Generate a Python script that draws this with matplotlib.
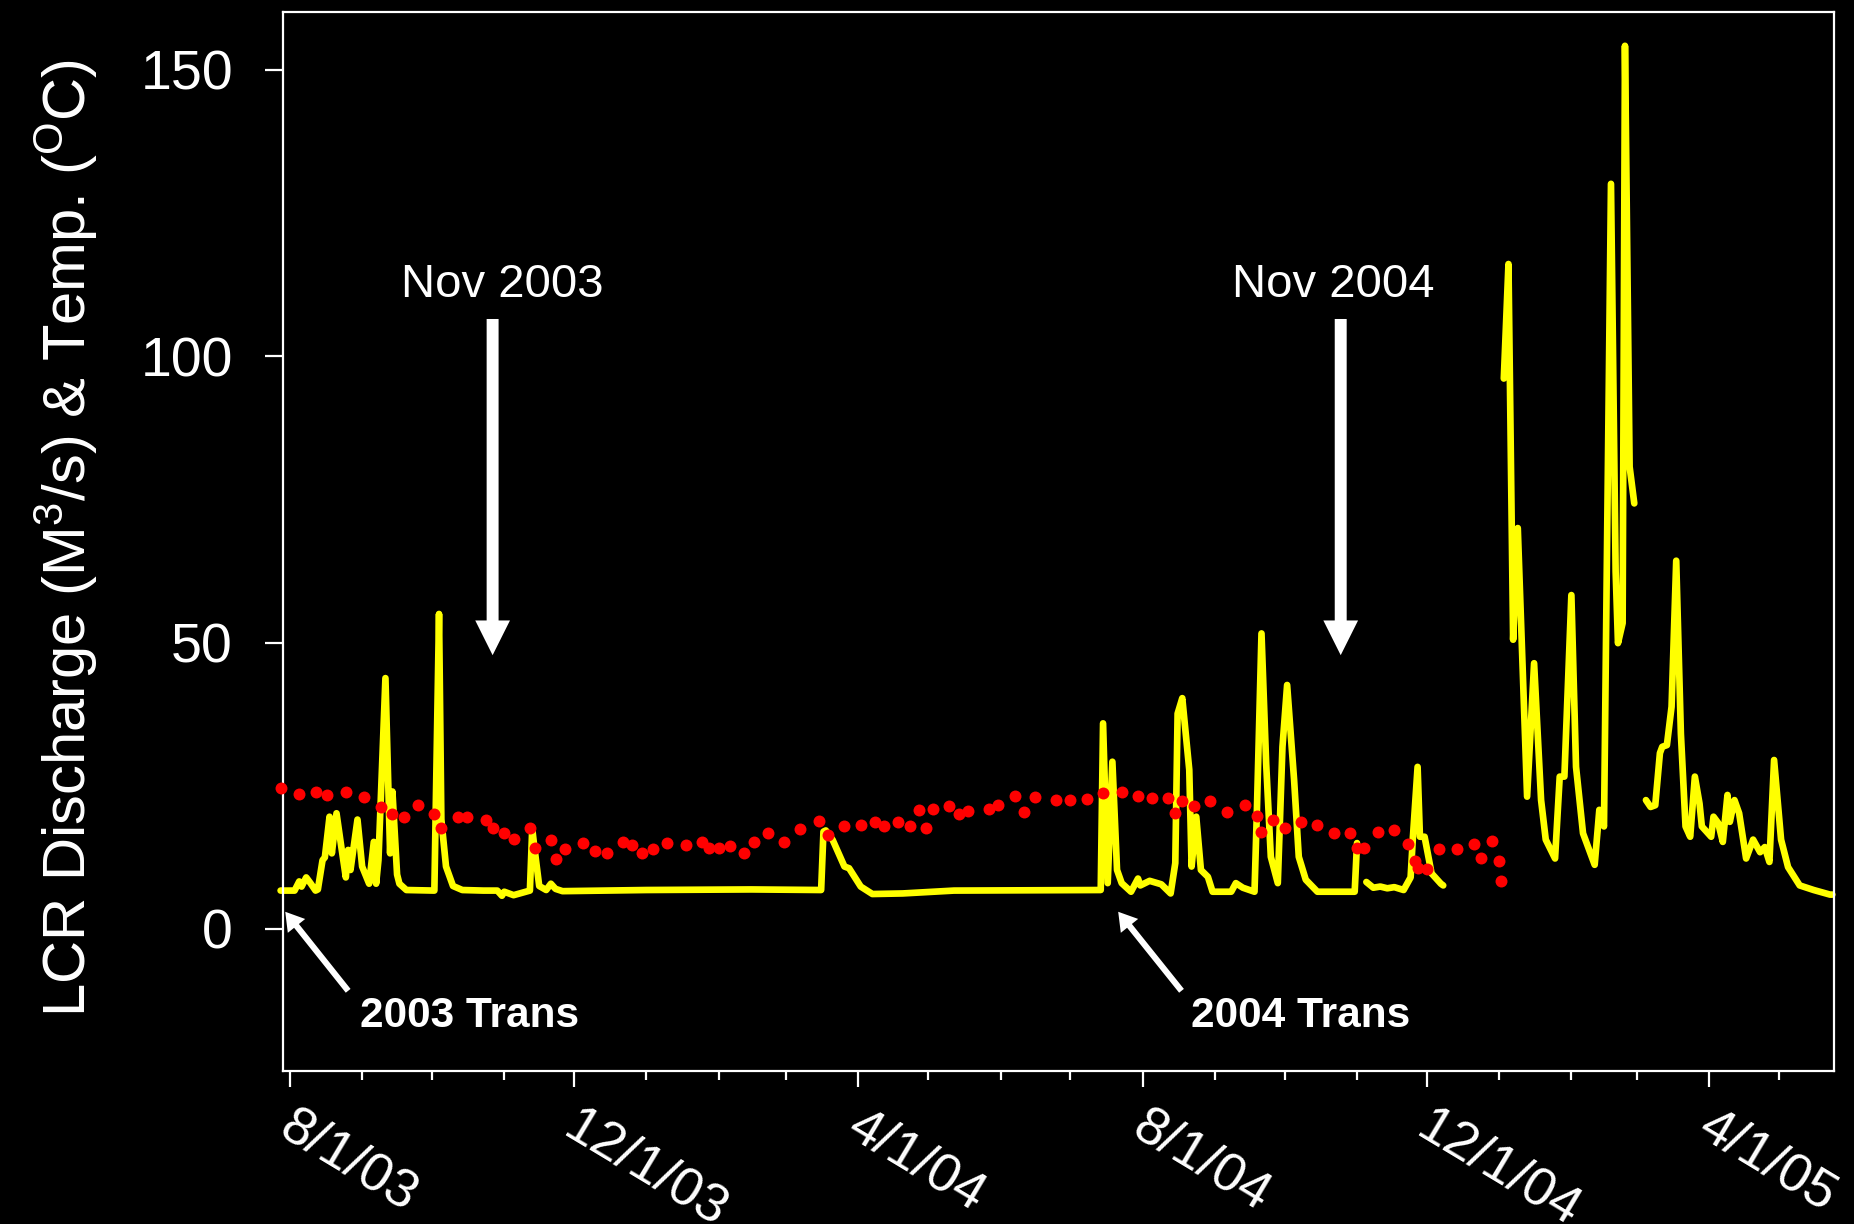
"""
LCR discharge and water temperature, Aug 2003 - May 2005.
Yellow line = daily discharge (m3/s), red dots = temperature (C).
"""

import matplotlib

matplotlib.use("Agg")
import matplotlib.pyplot as plt
import matplotlib.dates as mdates
from matplotlib.ticker import FuncFormatter
from matplotlib.transforms import ScaledTranslation
import numpy as np
import pandas as pd

OUTPUT_PNG = "out.png"
nan = np.nan

# discharge record (m3/s); NaN rows mark gaps in the gauge record
flow_dates = [
    "07/28/03", "08/03/03", "08/05/03", "08/06/03", "08/08/03", "08/10/03", "08/12/03",
    "08/13/03", "08/15/03", "08/16/03", "08/18/03", "08/19/03", "08/21/03", "08/23/03",
    "08/25/03", "08/26/03", "08/27/03", "08/30/03", "09/01/03", "09/04/03", "09/06/03",
    "09/07/03", "09/08/03", "09/11/03", "09/13/03", "09/14/03", "09/16/03", "09/17/03",
    "09/20/03", "10/02/03", "10/04/03", "10/05/03", "10/07/03", "10/10/03", "10/14/03",
    "10/23/03", "10/29/03", "10/31/03", "11/01/03", "11/05/03", "11/12/03", "11/13/03",
    "11/14/03", "11/16/03", "11/19/03", "11/21/03", "11/23/03", "11/26/03", "01/01/04",
    "02/15/04", "03/16/04", "03/17/04", "03/18/04", "03/21/04", "03/26/04", "03/28/04",
    "04/02/04", "04/07/04", "04/20/04", "05/12/04", "07/14/04", "07/15/04", "07/17/04",
    "07/19/04", "07/21/04", "07/23/04", "07/27/04", "07/30/04", "07/31/04", "08/04/04",
    "08/09/04", "08/13/04", "08/15/04", "08/16/04", "08/18/04", "08/21/04", "08/22/04",
    "08/24/04", "08/26/04", "08/29/04", "08/31/04", "09/08/04", "09/10/04", "09/13/04",
    "09/18/04", "09/19/04", "09/21/04", "09/23/04", "09/25/04", "09/28/04", "09/30/04",
    "10/02/04", "10/05/04", "10/07/04", "10/10/04", "10/15/04", "10/31/04", "11/01/04",
    "11/03/04",
    "11/05/04", "11/08/04", "11/11/04", "11/14/04", "11/17/04", "11/21/04", "11/24/04",
    "11/25/04", "11/27/04", "11/28/04", "11/30/04", "12/03/04", "12/07/04", "12/08/04",
    "12/20/04",
    "01/03/05", "01/05/05", "01/07/05", "01/09/05", "01/13/05", "01/16/05", "01/19/05",
    "01/21/05", "01/25/05", "01/27/05", "01/29/05", "02/01/05", "02/03/05", "02/06/05",
    "02/11/05", "02/13/05", "02/15/05", "02/18/05", "02/20/05", "02/21/05", "02/23/05",
    "02/24/05", "02/26/05", "02/28/05",
    "03/02/05",
    "03/05/05", "03/07/05", "03/09/05", "03/11/05", "03/12/05", "03/14/05", "03/16/05",
    "03/18/05", "03/20/05", "03/22/05", "03/24/05", "03/26/05", "03/28/05", "03/29/05",
    "04/02/05", "04/03/05", "04/05/05", "04/07/05", "04/09/05", "04/10/05", "04/12/05",
    "04/14/05", "04/17/05", "04/20/05", "04/23/05", "04/25/05", "04/27/05", "04/29/05",
    "04/30/05", "05/02/05", "05/05/05", "05/10/05", "05/16/05", "05/23/05", "05/24/05",
]
flow_cms = [
    6.7, 6.7, 8.3, 7.4, 9.0, 7.9, 6.7,
    6.9, 12.0, 12.5, 19.6, 13.2, 20.2, 14.5,
    9.0, 13.8, 10.3, 19.1, 10.9, 7.9, 15.2,
    7.9, 12.0, 43.8, 13.2, 24.0, 9.5, 7.9,
    6.8, 6.7, 55.0, 19.1, 10.9, 7.5, 6.8,
    6.7, 6.7, 5.8, 6.5, 5.9, 6.7, 17.5,
    14.0, 7.5, 6.8, 7.9, 7.0, 6.6, 6.8,
    6.9, 6.8, 17.0, 17.2, 15.5, 10.9, 10.6,
    7.4, 6.1, 6.2, 6.7, 6.8, 35.9, 8.0,
    29.2, 10.3, 8.0, 6.5, 8.8, 7.6, 8.4,
    7.8, 6.2, 11.5, 37.6, 40.3, 27.8, 10.9,
    19.6, 10.3, 9.1, 6.5, 6.5, 8.0, 7.2,
    6.5, 20.2, 51.6, 28.9, 12.6, 8.0, 31.8,
    42.6, 26.0, 12.6, 8.6, 6.5, 6.5, 15.0,
    nan,
    8.2, 7.2, 7.4, 7.1, 7.3, 6.8, 9.0,
    16.1, 28.3, 16.1, 16.1, 9.7, 7.9, 7.6,
    nan,
    96.1, 116.1, 50.5, 70.0, 23.1, 46.4, 22.5,
    15.6, 12.3, 26.6, 26.6, 58.3, 28.3, 16.7,
    11.2, 20.8, 17.9, 130.1, 62.4, 49.9, 53.4,
    154.2, 80.7, 74.3,
    nan,
    22.5, 21.3, 21.6, 30.7, 31.8, 32.1, 38.8,
    64.3, 34.1, 17.9, 16.1, 26.6, 21.9, 17.9,
    16.1, 19.6, 18.5, 15.2, 23.4, 18.7, 22.5,
    20.2, 12.3, 15.6, 13.4, 14.3, 11.7, 29.5,
    24.9, 15.6, 10.8, 7.6, 6.8, 6.0, 6.0,
]

# spot water temperatures (C)
temp_dates = [
    "07/28/03", "08/05/03", "08/12/03", "08/17/03", "08/25/03", "09/02/03", "09/09/03",
    "09/14/03", "09/19/03", "09/25/03", "10/02/03", "10/05/03", "10/12/03", "10/16/03",
    "10/24/03", "10/27/03", "11/01/03", "11/05/03", "11/12/03", "11/14/03", "11/21/03",
    "11/23/03", "11/27/03", "12/05/03", "12/10/03", "12/15/03", "12/22/03", "12/26/03",
    "12/30/03", "01/04/04", "01/10/04", "01/18/04", "01/25/04", "01/28/04", "02/01/04",
    "02/06/04", "02/12/04", "02/16/04", "02/22/04", "02/29/04", "03/07/04", "03/15/04",
    "03/19/04", "03/26/04", "04/02/04", "04/08/04", "04/12/04", "04/18/04", "04/23/04",
    "04/27/04", "04/30/04", "05/03/04", "05/10/04", "05/14/04", "05/18/04", "05/27/04",
    "05/31/04", "06/07/04", "06/11/04", "06/16/04", "06/25/04", "07/01/04", "07/08/04",
    "07/15/04", "07/23/04", "07/30/04", "08/05/04", "08/12/04", "08/15/04", "08/18/04",
    "08/23/04", "08/30/04", "09/06/04", "09/14/04", "09/19/04", "09/21/04", "09/26/04",
    "10/01/04", "10/08/04", "10/15/04", "10/22/04", "10/29/04", "11/01/04", "11/04/04",
    "11/10/04", "11/17/04", "11/23/04", "11/26/04", "11/27/04", "12/01/04", "12/06/04",
    "12/14/04", "12/21/04", "12/24/04", "12/29/04", "01/01/05", "01/02/05",
]
temp_c = [
    24.6, 23.6, 24.0, 23.4, 23.9, 23.1, 21.3,
    20.1, 19.6, 21.6, 20.1, 17.7, 19.6, 19.6,
    19.0, 17.7, 16.7, 15.7, 17.6, 14.1, 15.6,
    12.2, 14.0, 15.0, 13.6, 13.3, 15.1, 14.6,
    13.3, 14.0, 15.0, 14.6, 15.1, 14.2, 14.2,
    14.5, 13.2, 15.1, 16.7, 15.2, 17.4, 18.9,
    16.4, 17.9, 18.1, 18.6, 17.9, 18.6, 17.9,
    20.7, 17.6, 21.0, 21.4, 20.1, 20.6, 20.9,
    21.6, 23.3, 20.4, 23.0, 22.6, 22.5, 22.7,
    23.7, 23.9, 23.3, 22.8, 22.9, 20.3, 22.3,
    21.5, 22.3, 20.5, 21.6, 19.8, 16.9, 19.1,
    17.6, 18.7, 18.2, 16.8, 16.8, 14.1, 14.1,
    17.0, 17.3, 14.8, 11.9, 10.7, 10.4, 14.0,
    14.0, 14.9, 12.4, 15.4, 11.8, 8.3,
]

# trip markers: big arrows from label down toward the hydrograph
trip_labels = ["Nov 2003", "Nov 2004"]
trip_arrow_dates = ["2003-10-27", "2004-10-25"]
trip_text_dates = ["2003-10-31", "2004-10-22"]

# transect start arrows
trans_labels = ["2003 Trans", "2004 Trans"]
trans_tip_dates = ["2003-07-30", "2004-07-21 12:00"]
trans_tail_dates = ["2003-08-26", "2004-08-17 16:00"]
trans_text_dates = ["2003-10-17", "2004-10-08"]


def date_label(x, pos=None):
    d = mdates.num2date(x)
    return f"{d.month}/{d.day}/{d:%y}"


def main():
    plt.rcParams["font.family"] = ["Liberation Sans", "DejaVu Sans"]
    plt.rcParams["mathtext.fontset"] = "custom"
    plt.rcParams["mathtext.rm"] = "Liberation Sans"
    plt.rcParams["mathtext.it"] = "Liberation Sans:italic"
    plt.rcParams["mathtext.bf"] = "Liberation Sans:bold"

    flow_t = pd.to_datetime(flow_dates, format="%m/%d/%y")
    temp_t = pd.to_datetime(temp_dates, format="%m/%d/%y")

    fig = plt.figure(figsize=(18.54, 12.24), dpi=100, facecolor="black")
    ax = fig.add_axes([0.1526, 0.125, 0.8366, 0.8652], facecolor="black")

    ax.plot(flow_t, flow_cms, color="#ffff00", lw=4.8,
            solid_capstyle="round", solid_joinstyle="round", clip_on=False, zorder=2)
    ax.plot(temp_t, temp_c, ls="none", marker="o", ms=8.6,
            mfc="#ff0000", mec="none", clip_on=False, zorder=3)

    ax.set_xlim(pd.Timestamp("2003-07-29"), pd.Timestamp("2005-05-24 17:00"))
    ax.set_ylim(-24.8, 160.1)
    ax.set_yticks([0, 50, 100, 150])

    ax.xaxis.set_major_locator(mdates.MonthLocator(bymonth=[4, 8, 12]))
    ax.xaxis.set_minor_locator(mdates.MonthLocator())
    ax.xaxis.set_major_formatter(FuncFormatter(date_label))

    for side in ["left", "right", "top", "bottom"]:
        ax.spines[side].set_color("white")
        ax.spines[side].set_linewidth(1.6)

    ax.tick_params(axis="y", colors="white", width=1.6, length=13,
                   pad=23, labelsize=40)
    ax.tick_params(axis="x", which="major", colors="white", width=1.6,
                   length=11.5, pad=10, labelsize=39)
    ax.tick_params(axis="x", which="minor", colors="white", width=1.6, length=6.5)

    # slanted date labels hanging from the tick, nudged a little to the right
    nudge = ScaledTranslation(5 / 72, 0, fig.dpi_scale_trans)
    for lab in ax.get_xticklabels():
        lab.set(rotation=-31, ha="left", va="top", rotation_mode="anchor")
        lab.set_transform(lab.get_transform() + nudge)

    ax.set_ylabel(r"LCR Discharge (M$^3$/s) & Temp. ($^{\rm O}$C)",
                  color="white", fontsize=43)
    ax.yaxis.set_label_coords(-0.1178, 0.503)

    # Nov trip arrows
    for lab, xa, xt in zip(trip_labels, trip_arrow_dates, trip_text_dates):
        ax.annotate("", xy=(pd.Timestamp(xa), 47.8), xytext=(pd.Timestamp(xa), 106.5),
                    arrowprops=dict(facecolor="white", edgecolor="none",
                                    width=8.6, headwidth=25, headlength=25, shrink=0))
        ax.text(pd.Timestamp(xt), 110.4, lab, color="white", fontsize=34,
                ha="center", va="baseline")

    # transect arrows
    for lab, tip, tail, xt in zip(trans_labels, trans_tip_dates,
                                  trans_tail_dates, trans_text_dates):
        ax.annotate("", xy=(pd.Timestamp(tip), 3.0), xytext=(pd.Timestamp(tail), -10.8),
                    arrowprops=dict(facecolor="white", edgecolor="none",
                                    width=4.4, headwidth=16, headlength=13, shrink=0))
        ax.text(pd.Timestamp(xt), -17.06, lab, color="white", fontsize=30.5,
                fontweight="bold", ha="center", va="baseline")

    fig.savefig(OUTPUT_PNG, dpi=100, facecolor="black")
    plt.close(fig)


if __name__ == "__main__":
    main()
